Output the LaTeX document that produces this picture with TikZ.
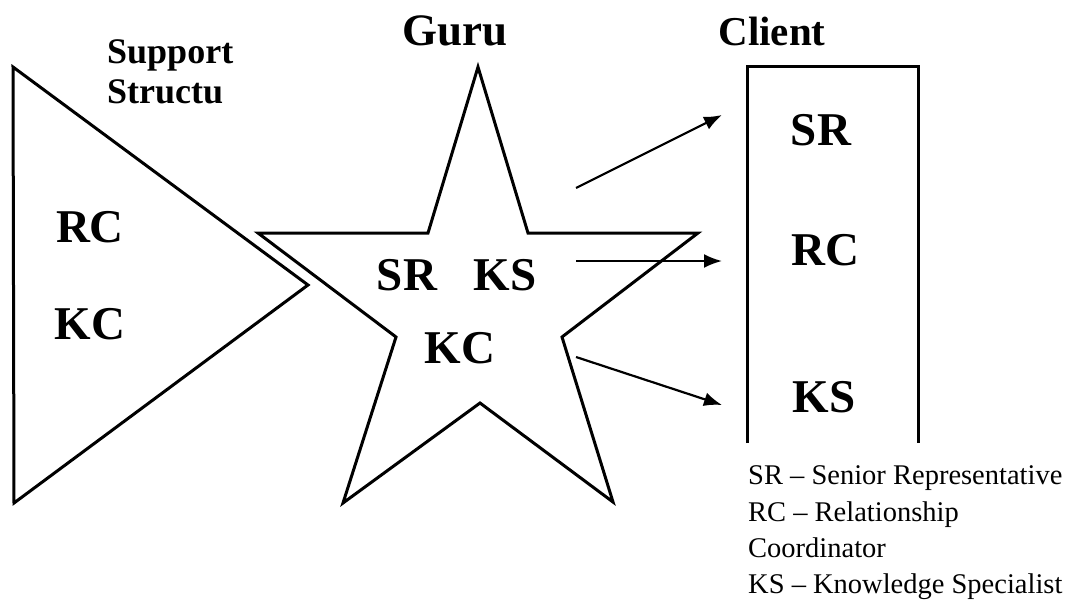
\documentclass[tikz,border=0pt]{standalone}
\usepackage{fontspec}
\setmainfont{Liberation Serif}
\usetikzlibrary{arrows.meta}
\begin{document}
\begin{tikzpicture}[x=1pt,y=-1pt,
  shape line/.style={line width=3pt,line join=miter},
  conn/.style={line width=2.2pt,-{Latex[length=18pt,width=14pt]}},
  big/.style={font=\fontsize{47}{52}\selectfont\bfseries,inner sep=0pt},
  head/.style={font=\fontsize{36}{40}\selectfont\bfseries,inner sep=0pt,anchor=base west},
  legend/.style={font=\fontsize{28.5}{34}\selectfont,inner sep=0pt,anchor=base west}]
\useasboundingbox (0,0) rectangle (1070,600);
% support triangle
\draw[shape line] (13,67) -- (308,285) -- (14,503) -- cycle;
% guru star
\draw[shape line] (478,67) -- (528,233) -- (698,233) -- (562,337) -- (613,502)
  -- (480,403) -- (343,503) -- (396,337) -- (258,233) -- (428,233) -- cycle;
% client box (open at the bottom)
\draw[shape line] (747,443) -- (747,66) -- (918,66) -- (918,443);
% headings
\node[head] (sup1) at (107,63) {Support};
\node[head] (sup2) at (107,103) {Structu};
\node[big,font=\fontsize{45}{50}\selectfont\bfseries] (guru) at (455,31) {Guru};
\node[big,font=\fontsize{41}{46}\selectfont\bfseries] (client) at (772,31) {Client};
% labels
\node[big] (rc1) at (90,227) {RC};
\node[big] (kc1) at (90,324) {KC};
\node[big] (sr2) at (407,275) {SR};
\node[big] (ks2) at (505,275) {KS};
\node[big] (kc2) at (460,348) {KC};
\node[big] (sr3) at (821,130) {SR};
\node[big] (rc3) at (825,250) {RC};
\node[big] (ks3) at (824,397) {KS};
% arrows
\coordinate (a1s) at (576,188); \coordinate (a1e) at (722,115);
\coordinate (a2s) at (576,261); \coordinate (a2e) at (722,261);
\coordinate (a3s) at (576,357); \coordinate (a3e) at (722,405);
\draw[conn] (a1s) -- (a1e);
\draw[conn] (a2s) -- (a2e);
\draw[conn] (a3s) -- (a3e);
% legend
\node[legend] (l1) at (748,484) {SR -- Senior Representative};
\node[legend] (l2) at (748,521) {RC -- Relationship};
\node[legend] (l3) at (748,557) {Coordinator};
\node[legend] (l4) at (748,593) {KS -- Knowledge Specialist};
\end{tikzpicture}
\end{document}
